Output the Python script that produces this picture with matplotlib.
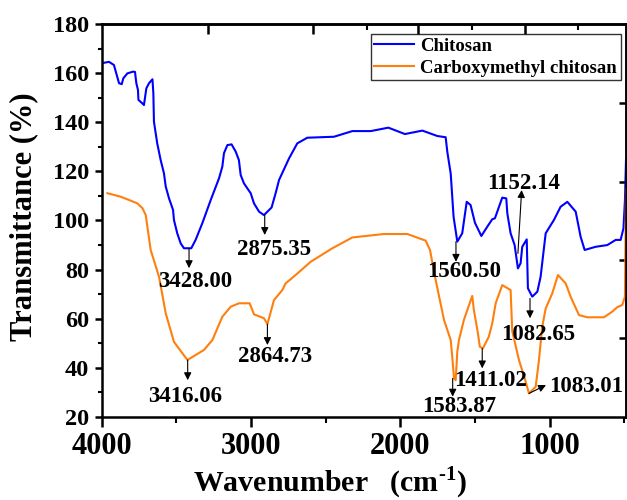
import matplotlib
matplotlib.use("Agg")
import matplotlib.pyplot as plt
from matplotlib.ticker import MultipleLocator, FixedLocator, NullFormatter

plt.rcParams['font.family'] = ['Liberation Serif', 'DejaVu Serif']
plt.rcParams['font.weight'] = 'bold'
plt.rcParams['axes.labelweight'] = 'bold'
plt.rcParams['mathtext.fontset'] = 'custom'
plt.rcParams['mathtext.rm'] = 'Liberation Serif:bold'
plt.rcParams['mathtext.bf'] = 'Liberation Serif:bold'

# FTIR spectra
chitosan_wn = [3985, 3951, 3918, 3884, 3866, 3855, 3828, 3790, 3777, 3768, 3757,
               3754, 3728, 3717, 3701, 3683, 3660, 3654, 3650, 3628, 3605, 3583,
               3571, 3549, 3522, 3516, 3494, 3471, 3449, 3400, 3371, 3326, 3270,
               3214, 3192, 3181, 3158, 3130, 3102, 3081, 3069, 3047, 3002, 2980,
               2946, 2913, 2862, 2835, 2812, 2745, 2690, 2623, 2444, 2321, 2198,
               2080, 1969, 1852, 1752, 1696, 1685, 1662, 1643, 1618, 1585, 1555,
               1529, 1500, 1457, 1417, 1384, 1366, 1317, 1290, 1283, 1261, 1234,
               1212, 1194, 1183, 1153, 1145, 1116, 1082, 1060, 1026, 971, 926,
               881, 825, 792, 765, 691, 613, 557, 524, 505, 495, 488]
chitosan_t = [164.2, 164.6, 163.3, 155.9, 155.5, 157.9, 159.9, 160.6, 160.5, 155.9, 153.1,
              149.1, 147.7, 147.0, 153.8, 155.9, 157.5, 151.8, 140.2, 131.4, 124.6, 119.2,
              113.8, 109.0, 104.3, 100.2, 94.8, 90.7, 88.7, 88.7, 92.1, 98.9, 108.3,
              117.2, 121.9, 127.4, 130.7, 131.0, 128.0, 124.6, 118.5, 115.1, 111.1, 107.0,
              103.6, 102.2, 105.3, 111.1, 116.5, 125.3, 131.4, 133.7, 134.1, 136.4, 136.4,
              137.8, 135.2, 136.6, 134.4, 133.9, 128.0, 119.0, 101.5, 91.4, 94.8, 107.6,
              106.3, 99.1, 93.7, 97.5, 100.5, 100.9, 109.3, 109.0, 102.9, 94.8, 90.0,
              80.5, 82.6, 89.3, 92.3, 72.4, 69.0, 71.0, 77.1, 94.8, 100.2, 105.6,
              107.6, 103.6, 93.4, 88.0, 89.3, 90.0, 92.1, 92.1, 96.8, 108.3, 124.6]

cmc_wn = [3962, 3873, 3762, 3727, 3705, 3672, 3616, 3571, 3516, 3426, 3315, 3259,
          3192, 3136, 3080, 3009, 2980, 2913, 2890, 2846, 2790, 2768, 2701, 2600,
          2455, 2321, 2109, 1953, 1830, 1801, 1763, 1707, 1662, 1650, 1640, 1629,
          1618, 1607, 1574, 1518, 1507, 1480, 1467, 1447, 1407, 1384, 1361, 1317,
          1261, 1250, 1205, 1160, 1138, 1093, 1071, 1049, 1026, 982, 944, 892,
          859, 803, 747, 636, 580, 547, 513, 495, 488]
cmc_t = [111.1, 109.7, 107.0, 105.0, 102.2, 88.0, 77.1, 62.2, 50.6, 43.2, 47.3, 51.3,
         60.8, 64.9, 66.3, 66.3, 61.8, 60.2, 57.8, 67.6, 71.7, 74.4, 77.8, 83.2,
         88.7, 93.1, 94.5, 94.5, 91.8, 88.0, 75.8, 59.5, 51.3, 43.2, 35.7, 35.0,
         46.6, 51.3, 59.5, 69.3, 63.6, 54.1, 48.6, 47.9, 52.7, 58.1, 66.3, 73.7,
         71.7, 55.0, 43.2, 34.4, 29.6, 32.3, 43.2, 56.8, 64.2, 70.3, 77.8, 74.4,
         69.0, 61.5, 60.6, 60.6, 62.9, 64.7, 65.6, 69.0, 113.0]

# peak labels: text, arrow start, arrow end, text anchor, alignment
peak_labels = [
    ('3428.00', (3415, 88.7), (3415, 80.6), (3371, 72.9), 'center'),
    ('2875.35', (2908, 102.2), (2908, 94.1), (2848, 85.8), 'center'),
    ('3416.06', (3424, 43.2), (3424, 35.0), (3444, 26.1), 'center'),
    ('2864.73', (2890, 57.8), (2890, 49.3), (2841, 42.3), 'center'),
    ('1560.50', (1627, 91.4), (1627, 83.2), (1569, 76.9), 'center'),
    ('1152.14', (1212, 86.6), (1187, 112.4), (1173, 113.0), 'center'),
    ('1082.65', (1131, 68.3), (1131, 60.2), (1077, 51.2), 'center'),
    ('1583.87', (1649, 35.7), (1649, 28.3), (1606, 22.0), 'center'),
    ('1411.02', (1451, 47.9), (1451, 39.8), (1394, 32.6), 'center'),
    ('1083.01', (1138, 29.6), (1024, 33.0), (1004, 30.3), 'left'),
]

fig = plt.figure(figsize=(6.27, 5.0), dpi=100)
ax = fig.add_axes([101.7 / 627, 83 / 500, 524.3 / 627, 393 / 500])

ax.plot(chitosan_wn, chitosan_t, color='#0000FF', lw=1.5, label='Chitosan')
ax.plot(cmc_wn, cmc_t, color='#FF7F0E', lw=1.5, label='Carboxymethyl chitosan')

for txt, start, end, pos, ha in peak_labels:
    ax.annotate('', xy=end, xytext=start,
                arrowprops=dict(arrowstyle='-|>', color='black', lw=0.8,
                                mutation_scale=11, shrinkA=0, shrinkB=0))
    ax.text(pos[0], pos[1], txt, fontsize=16.5, ha=ha, va='baseline')

ax.set_xlim(4000, 488)
ax.set_ylim(20, 180)
ax.xaxis.set_major_locator(MultipleLocator(1000))
ax.xaxis.set_minor_locator(MultipleLocator(500))
ax.yaxis.set_major_locator(MultipleLocator(20))
ax.yaxis.set_minor_locator(MultipleLocator(10))
ax.tick_params(axis='x', which='major', direction='out', length=7, width=1.8,
               labelsize=22, pad=4)
ax.tick_params(axis='x', which='minor', direction='out', length=4, width=1.5)
ax.tick_params(axis='y', which='major', direction='out', length=5, width=1.8,
               labelsize=17.5, pad=4)
ax.tick_params(axis='y', which='minor', direction='out', length=3, width=1.5)
for s in ax.spines.values():
    s.set_linewidth(1.8)

# independent top / right tick marks as in the original
top = ax.secondary_xaxis('top')
top.xaxis.set_major_locator(FixedLocator([3288, 2585, 1881, 1165]))
top.xaxis.set_minor_locator(FixedLocator([2223, 1520, 810]))
top.xaxis.set_major_formatter(NullFormatter())
top.tick_params(which='major', direction='in', length=7, width=1.8)
top.tick_params(which='minor', direction='in', length=4, width=1.5)
top.spines['top'].set_linewidth(1.8)

right = ax.secondary_yaxis('right')
right.yaxis.set_major_locator(FixedLocator([147.8, 115.7, 83.9, 52.1]))
right.yaxis.set_major_formatter(NullFormatter())
right.tick_params(which='major', direction='in', length=5, width=1.8)
right.spines['right'].set_linewidth(1.8)

ax.set_xlabel('Wavenumber   (cm$^{\\mathbf{\u2010}\\mathbf{1}}$)', fontsize=21.5,
              fontweight='bold')
ax.xaxis.set_label_coords(0.435, -0.122)
ax.set_ylabel('Transmittance (%)', fontsize=22, fontweight='bold')
ax.yaxis.set_label_coords(-0.121, 0.509)

leg = ax.legend(loc='upper right', bbox_to_anchor=(0.990, 0.975), fontsize=13.5,
                frameon=True, fancybox=False, handlelength=2.1, handletextpad=0.35,
                labelspacing=0.25, borderpad=0.2, borderaxespad=0)
leg.get_frame().set_edgecolor('black')
leg.get_frame().set_linewidth(1.0)

fig.savefig('out.png', dpi=100)
